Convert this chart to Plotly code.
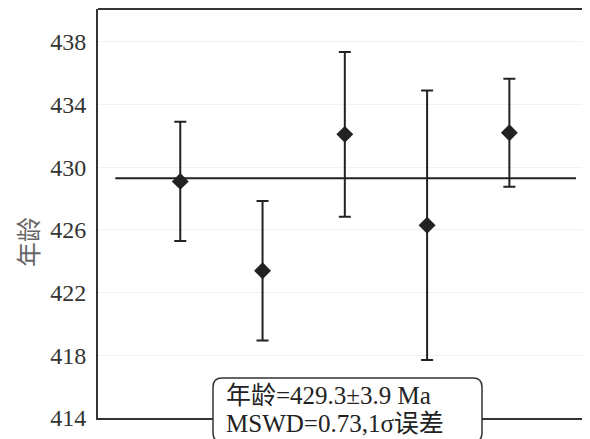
import plotly.graph_objects as go

# Data
sample_index = [1, 2, 3, 4, 5]
ages = [429.1, 423.4, 432.1, 426.3, 432.2]
errors = [3.8, 4.45, 5.25, 8.6, 3.45]
mean_age = 429.3
mean_x = [0.21, 5.81]
y_ticks = [414, 418, 422, 426, 430, 434, 438]
y_title = "年龄"
label_line1 = "年龄=429.3±3.9 Ma"
label_line2 = "MSWD=0.73,1σ误差"

# page body has an 8px margin; work in picture pixels and convert
OFF = 8
W, H = 590 - OFF, 439 - OFF
plot_left, plot_right, plot_top, plot_bottom = 98, 590, 9, 418  # picture pixels
ML = plot_left - OFF
MT = plot_top - OFF
MR = 590 - plot_right
MB = 439 - plot_bottom
pw = plot_right - plot_left
ph = plot_bottom - plot_top

def px(x):
    return (x - plot_left) / pw

def py(y):
    return (plot_bottom - y) / ph

fig = go.Figure()

fig.add_trace(go.Scatter(
    x=mean_x, y=[mean_age, mean_age], mode="lines",
    line=dict(color="#222222", width=2.2), hoverinfo="skip", showlegend=False))

fig.add_trace(go.Scatter(
    x=sample_index, y=ages, mode="markers",
    marker=dict(symbol="diamond", size=13, color="#222222"),
    error_y=dict(type="data", array=errors, visible=True, color="#222222",
                 thickness=2, width=6),
    showlegend=False))

# rounded label box
l, r, t, b, rad = 213, 482, 378, 442, 9
path = (f"M {px(l+rad)} {py(t)} L {px(r-rad)} {py(t)} "
        f"Q {px(r)} {py(t)} {px(r)} {py(t+rad)} "
        f"L {px(r)} {py(b-rad)} Q {px(r)} {py(b)} {px(r-rad)} {py(b)} "
        f"L {px(l+rad)} {py(b)} Q {px(l)} {py(b)} {px(l)} {py(b-rad)} "
        f"L {px(l)} {py(t+rad)} Q {px(l)} {py(t)} {px(l+rad)} {py(t)} Z")

serif = "Liberation Serif, Noto Sans CJK SC"
fig.add_annotation(x=px(224), y=py(395), xref="paper", yref="paper",
                   xanchor="left", yanchor="middle", showarrow=False,
                   text=label_line1, font=dict(family=serif, size=25, color="#222222"))
fig.add_annotation(x=px(224), y=py(423), xref="paper", yref="paper",
                   xanchor="left", yanchor="middle", showarrow=False,
                   text=label_line2, font=dict(family=serif, size=25, color="#222222"))
fig.add_annotation(x=px(27), y=py(242), xref="paper", yref="paper",
                   xanchor="center", yanchor="middle", showarrow=False, textangle=-90,
                   text=y_title, font=dict(family="Noto Sans CJK SC", size=25, color="#666666"))

fig.update_layout(
    width=W, height=H,
    margin=dict(l=ML, r=MR, t=MT, b=MB, autoexpand=False),
    paper_bgcolor="white", plot_bgcolor="white",
    font=dict(family=serif, color="#333333"),
    xaxis=dict(range=[0, 5.98], showticklabels=False, showgrid=False, zeroline=False,
               showline=True, linecolor="#333333", linewidth=2, mirror=False, ticks=""),
    yaxis=dict(range=[414, 440.1], tickvals=y_ticks, showgrid=True, gridcolor="#f1f1f1",
               gridwidth=1, zeroline=False, showline=True, linecolor="#333333", linewidth=2,
               ticks="", ticklabelstandoff=5,
               tickfont=dict(family="Liberation Serif", size=24, color="#333333")),
    shapes=[
        dict(type="path", path=path, xref="paper", yref="paper", fillcolor="white",
             line=dict(color="#333333", width=1.5), layer="above"),
        dict(type="line", xref="paper", yref="paper", x0=0, x1=1, y0=1, y1=1,
             line=dict(color="#333333", width=2)),
    ],
)

fig.write_html("out.html")
